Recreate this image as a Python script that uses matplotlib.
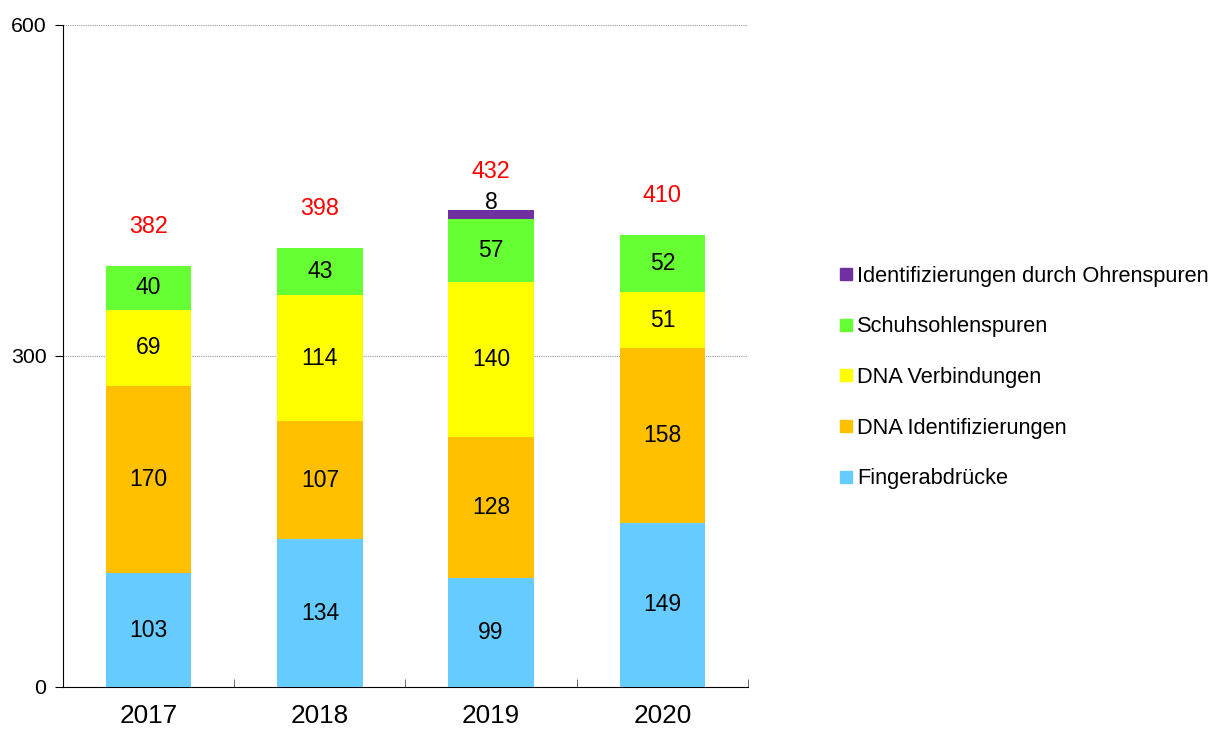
import matplotlib
matplotlib.use("Agg")
import matplotlib.pyplot as plt
from matplotlib.lines import Line2D
import numpy as np

plt.rcParams['font.family'] = ['Liberation Sans', 'DejaVu Sans']

years = ["2017", "2018", "2019", "2020"]
series_names = ["Fingerabdrücke", "DNA Identifizierungen", "DNA Verbindungen",
                "Schuhsohlenspuren", "Identifizierungen durch Ohrenspuren"]
finger = [103, 134, 99, 149]
dna_ident = [170, 107, 128, 158]
dna_verb = [69, 114, 140, 51]
schuh = [40, 43, 57, 52]
ohren = [0, 0, 8, 0]
totals = [382, 398, 432, 410]
colors = ["#66CCFF", "#FFC000", "#FFFF00", "#66FF33", "#7030A0"]

data = [finger, dna_ident, dna_verb, schuh, ohren]

fig = plt.figure(figsize=(12.15, 7.3), dpi=100)
ax = fig.add_axes([63/1215, 1-687/730, (748-63)/1215, (687-25)/730])

x = np.arange(len(years))
bottom = np.zeros(len(years))
for vals, col, name in zip(data, colors, series_names):
    vals = np.array(vals, dtype=float)
    ax.bar(x, vals, 0.5, bottom=bottom, color=col, label=name, zorder=3)
    for xi, v, b in zip(x, vals, bottom):
        if v <= 0:
            continue
        if v < 20:
            ax.annotate(str(int(v)), (xi, b + v), xytext=(0, 1), textcoords='offset points',
                        ha='center', va='baseline', fontsize=16.5, color='black', zorder=4)
        else:
            ax.text(xi, b + v / 2, str(int(v)), ha='center', va='center',
                    fontsize=16.5, color='black', zorder=4)
    bottom += vals

for xi, t in zip(x, totals):
    ax.annotate(str(t), (xi, t), xytext=(0, 28), textcoords='offset points',
                ha='center', va='center', fontsize=16.8, color='#FF0000')

ax.set_xlim(-0.5, 3.5)
ax.set_ylim(0, 600)
ax.set_yticks([0, 300, 600])
ax.set_yticklabels(["0", "300", "600"], fontsize=15.3)
ax.yaxis.grid(True, linestyle=(0, (1, 1)), color='#999999', linewidth=0.8, zorder=0)
ax.set_xticks(x)
ax.set_xticklabels(years, fontsize=18.8)
ax.tick_params(axis='x', length=0, pad=12.5)
ax.set_xticks(np.arange(-0.5, 4.0, 1.0), minor=True)
ax.tick_params(axis='x', which='minor', direction='in', length=6, color='#555555')
ax.tick_params(axis='y', direction='out', length=6, pad=6)
for s in ['top', 'right']:
    ax.spines[s].set_visible(False)
ax.spines['left'].set_color('black')
ax.spines['bottom'].set_color('black')

handles = [Line2D([], [], marker='s', linestyle='none', markersize=8,
                  markerfacecolor=c, markeredgecolor=c) for c in colors]
handles = handles[::-1]
labels = series_names[::-1]
fig.legend(handles, labels, loc='center left', bbox_to_anchor=(817/1215, 1-377.5/730),
           frameon=False, fontsize=15.7, labelspacing=1.36, handletextpad=0.05,
           handlelength=0.9)

fig.savefig("out.png", dpi=100)
